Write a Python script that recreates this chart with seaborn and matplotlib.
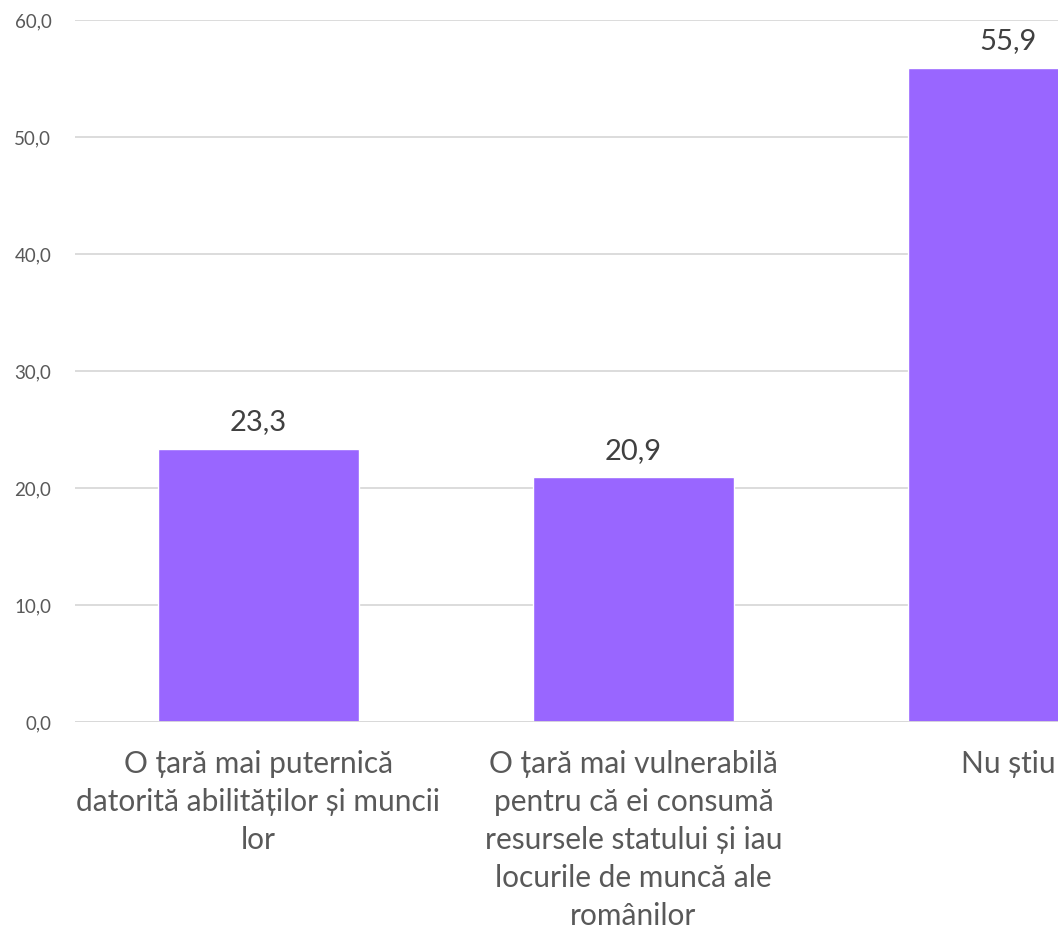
import matplotlib
matplotlib.use("Agg")
import matplotlib.pyplot as plt
import seaborn as sns
import pandas as pd

categories = [
    "O țară mai puternică\ndatorită abilităților și muncii\nlor",
    "O țară mai vulnerabilă\npentru că ei consumă\nresursele statului și iau\nlocurile de muncă ale\nromânilor",
    "Nu știu",
]
values = [23.3, 20.9, 55.9]
yticks = [0, 10, 20, 30, 40, 50, 60]

sns.set_theme(style="white")
plt.rcParams["font.family"] = ["Lato", "DejaVu Sans"]

df = pd.DataFrame({"cat": categories, "val": values})

W, H = 1058, 933
fig = plt.figure(figsize=(W / 100, H / 100), dpi=100)
ax = fig.add_axes([75 / W, (H - 722) / H, 1125 / W, 702 / H])

sns.barplot(data=df, x="cat", y="val", color="#9966FF", saturation=1,
            width=0.536, ax=ax, zorder=3)

ax.set_xlim(-0.489, 2.511)
ax.set_ylim(0, 60)
ax.set_yticks(yticks)
ax.set_yticklabels([f"{v:.1f}".replace(".", ",") for v in yticks],
                   fontsize=13.5, color="#595959")
ax.tick_params(axis="y", length=0, pad=17)
ax.tick_params(axis="x", length=0, pad=20)
for lbl in ax.get_xticklabels():
    lbl.set_fontsize(21.5)
    lbl.set_color("#595959")
    lbl.set_linespacing(1.44)
ax.yaxis.grid(True, color="#D9D9D9", linewidth=1.3, zorder=0)
ax.set_axisbelow(True)
for s in ax.spines.values():
    s.set_visible(False)
ax.axhline(0, color="#D9D9D9", linewidth=1.3, zorder=4)
ax.set_xlabel("")
ax.set_ylabel("")

for i, v in enumerate(values):
    ax.annotate(f"{v:.1f}".replace(".", ","), (i, v), xytext=(0, 10),
                textcoords="offset points", ha="center", va="bottom",
                fontsize=21, color="#404040")

fig.savefig("out.png", dpi=100)
